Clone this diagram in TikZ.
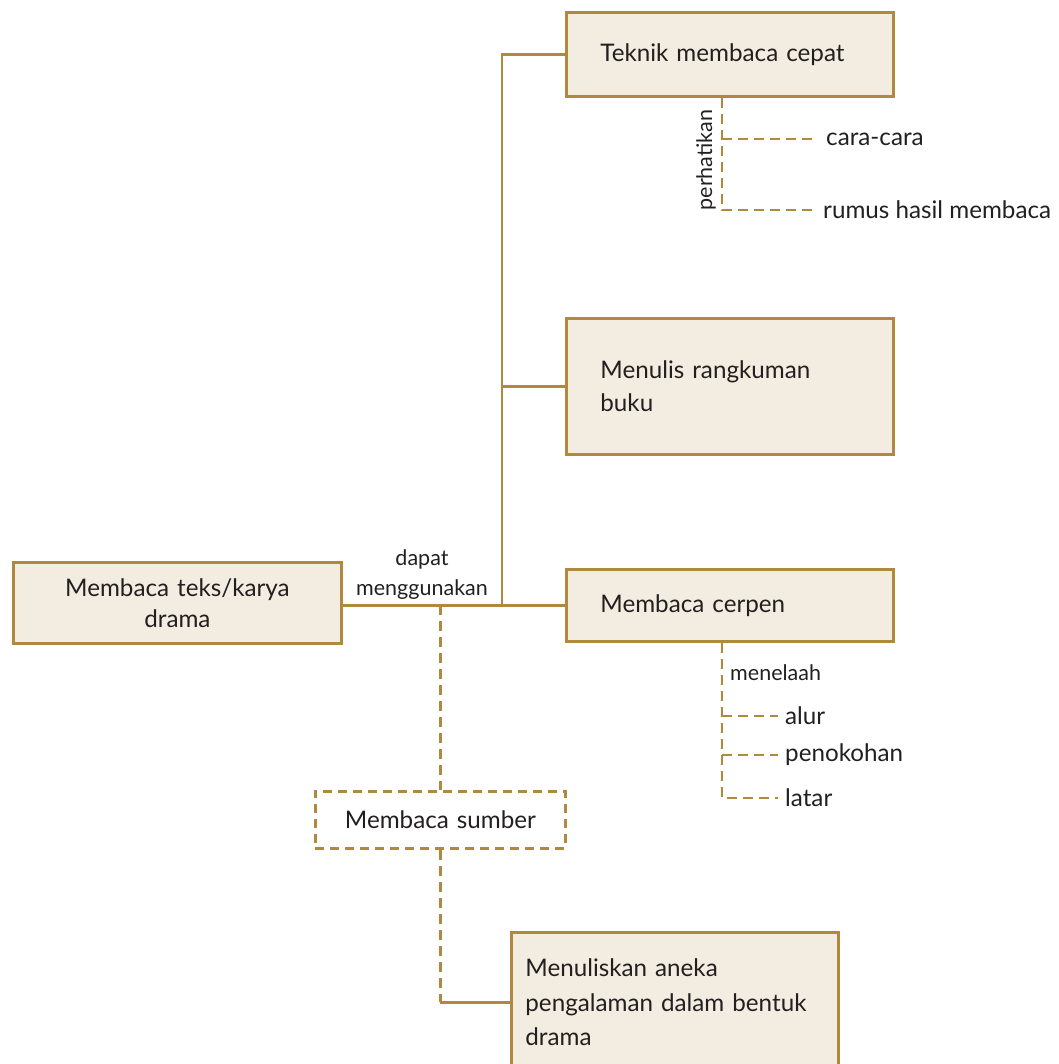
\documentclass[tikz,border=0pt]{standalone}
\usepackage{fontspec}
\setmainfont{Lato}
\definecolor{brd}{HTML}{B0893F}
\definecolor{fil}{HTML}{F3ECE0}
\definecolor{txt}{HTML}{231F20}
\begin{document}
\begin{tikzpicture}[x=1pt,y=-1pt,
  box/.style={draw=brd, fill=fil, line width=2.8pt, anchor=north west, inner xsep=34pt, inner ysep=0pt, align=left, font=\fontsize{24.2}{33}\selectfont, text=txt},
  conn/.style={draw=brd, line width=2.8pt},
  dconn/.style={conn, dash pattern=on 10pt off 6pt},
  lbl/.style={text=txt, font=\fontsize{24.2}{33}\selectfont, inner ysep=0pt},
  small/.style={text=txt, font=\fontsize{21.5}{30}\selectfont, inner sep=0pt}]
\useasboundingbox (0,0) rectangle (1058,1064);
% boxes
\node[box, text width=259pt, minimum height=84pt] (teknik) at (565,11) {Teknik membaca cepat};
\node[box, text width=259pt, minimum height=136pt] (menulis) at (565,317) {Menulis rangkuman\\buku};
\node[box, text width=259pt, minimum height=72pt] (cerpen) at (565,568) {Membaca cerpen};
\node[box, inner xsep=20pt, text width=288pt, align=center, minimum height=81pt, font=\fontsize{24.2}{31}\selectfont] (drama) at (12,561) {Membaca teks/karya\\drama};
\node[box, dash pattern=on 9pt off 6pt, inner xsep=10pt, text width=230pt, align=center, minimum height=57pt, fill=none] (sumber) at (314,790) {Membaca sumber};
\node[box, inner xsep=14pt, text width=299pt, minimum height=140pt, font=\fontsize{24.2}{34.5}\selectfont] (menuliskan) at (510,931) {Menuliskan aneka\\pengalaman dalam bentuk\\drama};
% main connectors
\coordinate (tr) at (502,604);
\draw[conn] (drama.east |- cerpen.west) -- (cerpen.west);
\draw[conn] (tr) |- (teknik.west);
\draw[conn] (tr |- menulis.west) -- (menulis.west);
\node[small, align=center] (dm) at (422,575) {dapat\\menggunakan};
\coordinate (sd) at (sumber.north |- cerpen.west);
\draw[dconn] (sd) -- (sumber.north);
\coordinate (mk) at (sumber.south |- menuliskan.west);
\draw[dconn] (sumber.south) -- (mk);
\draw[conn] (mk) -- (menuliskan.west);
% teknik branches
\coordinate (tk) at ([xshift=157pt]teknik.south west);
\node[lbl, anchor=west, inner xsep=14pt] (cara) at (812,139) {cara-cara};
\node[lbl, anchor=west, inner xsep=11pt] (rumus) at (812,210) {rumus hasil membaca};
\draw[dconn] (tk) |- (rumus.west);
\draw[dconn] (tk |- cara.west) -- (cara.west);
\node[small, rotate=90] (perh) at (706,160) {perhatikan};
% cerpen branches
\coordinate (cp) at ([xshift=157pt]cerpen.south west);
\node[small, anchor=west] (men) at (730,673) {menelaah};
\node[lbl, anchor=west, inner xsep=7pt] (alur) at (778,716) {alur};
\node[lbl, anchor=west, inner xsep=7pt] (peno) at (778,755) {penokohan};
\node[lbl, anchor=west, inner xsep=7pt] (latar) at (778,798) {latar};
\draw[dconn] (cp) |- (latar.west);
\draw[dconn] (cp |- alur.west) -- (alur.west);
\draw[dconn] (cp |- peno.west) -- (peno.west);
\end{tikzpicture}
\end{document}
